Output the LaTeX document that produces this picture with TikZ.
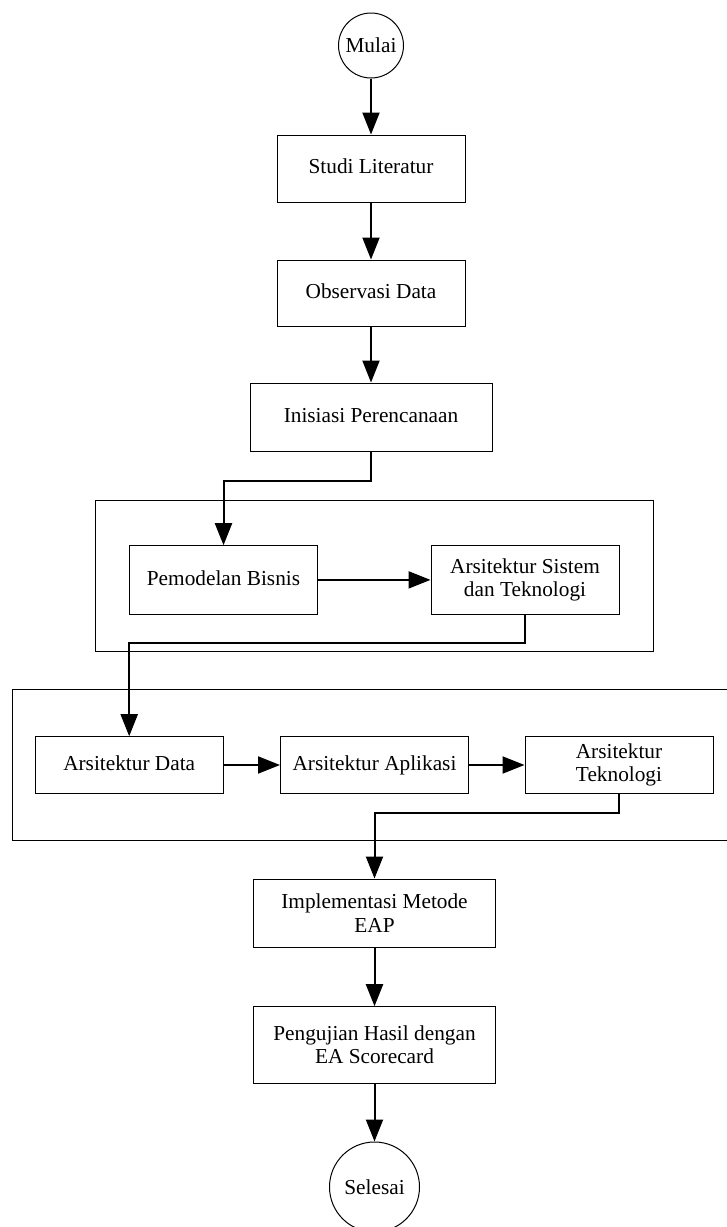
\documentclass[tikz,border=0pt]{standalone}
\usepackage{fontspec}
\setmainfont{Liberation Serif}
\usetikzlibrary{arrows.meta}

\begin{document}
\begin{tikzpicture}[x=0.5pt,y=-0.5pt,
        proses/.style={draw,line width=0.5pt,inner sep=0pt,align=center,
            minimum width=94pt,minimum height=34pt,
            font=\fontsize{10.65}{11.6}\selectfont},
        tunggal/.style={text height=1.6ex,text depth=0.45ex},
        terminal/.style={draw,circle,line width=0.5pt,inner sep=0pt,
            font=\fontsize{10.65}{11.6}\selectfont},
        alur/.style={line width=1pt,-{Triangle[length=11pt,width=8.5pt]}},
        kelompok/.style={line width=0.5pt}]
    \useasboundingbox (0,0) rectangle (727,1227);
    % kotak kelompok
    \draw[kelompok] (95.7,500.7) rectangle (653.3,651.7);
    \draw[kelompok] (727,689.3) -| (12.3,840) -- (727,840);
    % node
    \node[terminal,minimum size=32.5pt] (mulai) at (371,45.5) {Mulai};
    \node[proses,tunggal,minimum height=33.5pt] (studi) at (371,168.5) {Studi Literatur};
    \node[proses,tunggal,minimum height=33pt] (observasi) at (371,293) {Observasi Data};
    \node[proses,tunggal,minimum width=121pt] (inisiasi) at (371,417) {Inisiasi Perencanaan};
    \node[proses,tunggal,minimum height=34.2pt] (bisnis) at (223.5,579.9) {Pemodelan Bisnis};
    \node[proses,minimum height=34.2pt] (sistem) at (525,579.9) {Arsitektur Sistem\\dan Teknologi};
    \node[proses,tunggal,minimum height=28.3pt] (data) at (129.2,765) {Arsitektur Data};
    \node[proses,tunggal,minimum height=28.3pt] (aplikasi) at (374.5,765) {Arsitektur Aplikasi};
    \node[proses,minimum height=28.3pt] (teknologi) at (619,765) {Arsitektur\\Teknologi};
    \node[proses,minimum width=121pt] (eap) at (374.5,913) {Implementasi Metode\\EAP};
    \node[proses,minimum width=121pt,minimum height=38.3pt] (uji) at (374.5,1045) {Pengujian Hasil dengan\\EA Scorecard};
    \node[terminal,minimum size=45pt] (selesai) at (374.5,1187) {Selesai};
    % alur
    \draw[alur] (mulai) -- (studi);
    \draw[alur] (studi) -- (observasi);
    \draw[alur] (observasi) -- (inisiasi);
    \draw[alur] (inisiasi.south) -- ++(0,29) -| (bisnis.north);
    \draw[alur] (bisnis) -- (sistem);
    \draw[alur] (sistem.south) -- ++(0,28.4) -| (data.north);
    \draw[alur] (data) -- (aplikasi);
    \draw[alur] (aplikasi) -- (teknologi);
    \draw[alur] (teknologi.south) -- ++(0,18.8) -| (eap.north);
    \draw[alur] (eap) -- (uji);
    \draw[alur] (uji) -- (selesai);
\end{tikzpicture}
\end{document}
